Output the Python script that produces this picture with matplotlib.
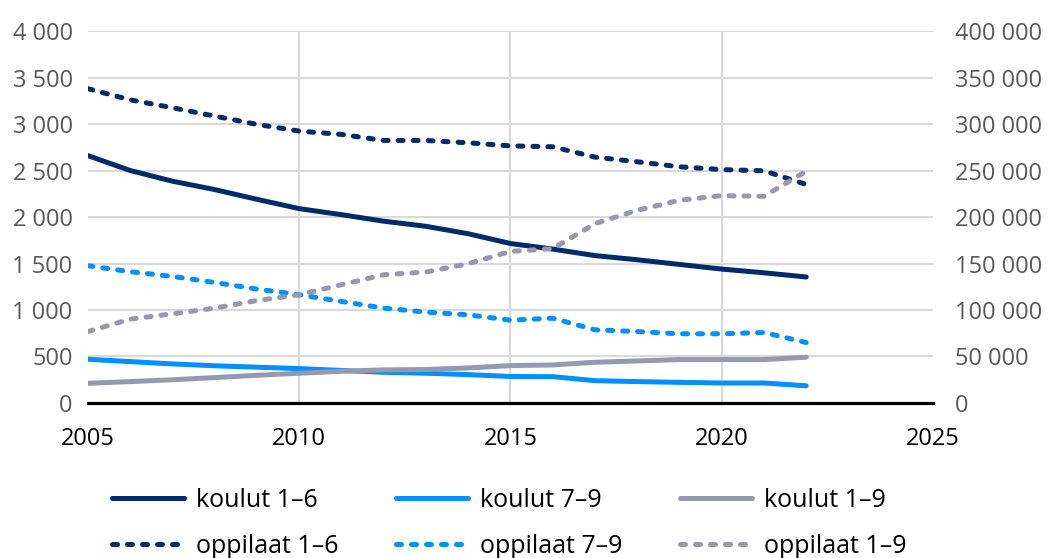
import matplotlib
matplotlib.use("Agg")
import matplotlib.pyplot as plt
from matplotlib.ticker import FuncFormatter

plt.rcParams['font.family'] = ['Open Sans', 'DejaVu Sans']

# Data: schools (left axis) and pupils (right axis)
years = list(range(2005, 2023))
koulut_16 = [2660, 2500, 2385, 2295, 2190, 2090, 2025, 1955, 1900, 1820, 1715, 1655, 1585, 1540, 1490, 1440, 1400, 1355]
koulut_79 = [470, 445, 420, 400, 385, 370, 350, 330, 320, 305, 285, 283, 240, 230, 222, 215, 215, 185]
koulut_19 = [212, 230, 250, 273, 298, 320, 341, 356, 360, 377, 402, 409, 438, 452, 467, 467, 467, 492]
oppilaat_16 = [338000, 326000, 317500, 308500, 299600, 292400, 288800, 282300, 282300, 279800, 276500, 275500,
               264400, 259400, 254000, 251000, 249700, 235000]
oppilaat_79 = [147600, 141200, 136100, 129600, 122500, 116400, 109200, 102000, 97700, 94800, 89000, 91200,
               78700, 76800, 74400, 74400, 75800, 65000]
oppilaat_19 = [76800, 90200, 95900, 102000, 110200, 116400, 127200, 137900, 140800, 149800, 163000, 166000,
               192900, 207200, 218000, 223000, 222300, 249300]

navy = '#002B6B'
blue = '#0090FF'
grey = '#9698AD'

fig = plt.figure(figsize=(10.51, 5.58), dpi=100)
ax = fig.add_axes([0.0837, 0.2778, 0.804, 0.6666])
ax2 = ax.twinx()

lw = 3.6
h_k16, = ax.plot(years, koulut_16, color=navy, lw=lw, solid_capstyle='round', label='koulut 1–6')
h_k79, = ax.plot(years, koulut_79, color=blue, lw=lw, solid_capstyle='round', label='koulut 7–9')
h_k19, = ax.plot(years, koulut_19, color=grey, lw=lw, solid_capstyle='round', label='koulut 1–9')

h_o16, = ax2.plot(years, oppilaat_16, color=navy, lw=lw, dashes=(1, 2), dash_capstyle='round', label='oppilaat 1–6')
h_o79, = ax2.plot(years, oppilaat_79, color=blue, lw=lw, dashes=(1, 2), dash_capstyle='round', label='oppilaat 7–9')
h_o19, = ax2.plot(years, oppilaat_19, color=grey, lw=lw, dashes=(1, 2), dash_capstyle='round', label='oppilaat 1–9')

ax.set_xlim(2005, 2025)
ax.set_ylim(0, 4000)
ax2.set_ylim(0, 400000)
ax.set_xticks(range(2005, 2026, 5))
ax.set_yticks(range(0, 4001, 500))
ax2.set_yticks(range(0, 400001, 50000))

fmt = FuncFormatter(lambda v, p: '{:,.0f}'.format(v).replace(',', ' '))
ax.yaxis.set_major_formatter(fmt)
ax2.yaxis.set_major_formatter(fmt)

ax.grid(True, color='#D9D9D9', lw=1.5)
ax.set_axisbelow(True)
xgl = ax.get_xgridlines()
xgl[0].set_visible(False)
xgl[-1].set_visible(False)

for a in (ax, ax2):
    for s in ('top', 'left', 'right'):
        a.spines[s].set_visible(False)
ax2.spines['bottom'].set_visible(False)
ax.spines['bottom'].set_color('black')
ax.spines['bottom'].set_linewidth(2.3)

ax.tick_params(axis='x', length=0, pad=17, labelsize=17, labelcolor='black')
ax.tick_params(axis='y', length=0, pad=11, labelsize=17, labelcolor='#595959')
ax2.tick_params(axis='y', length=0, pad=16, labelsize=17, labelcolor='#595959')

handles = [h_k16, h_o16, h_k79, h_o79, h_k19, h_o19]
fig.legend(handles=handles, labels=[h.get_label() for h in handles], ncol=3,
           loc='center', bbox_to_anchor=(0.485, 0.062), frameon=False,
           fontsize=18, handlelength=2.88, handletextpad=0.48, columnspacing=2.3,
           labelspacing=0.85, borderpad=0)

fig.savefig('out.png', dpi=100)
